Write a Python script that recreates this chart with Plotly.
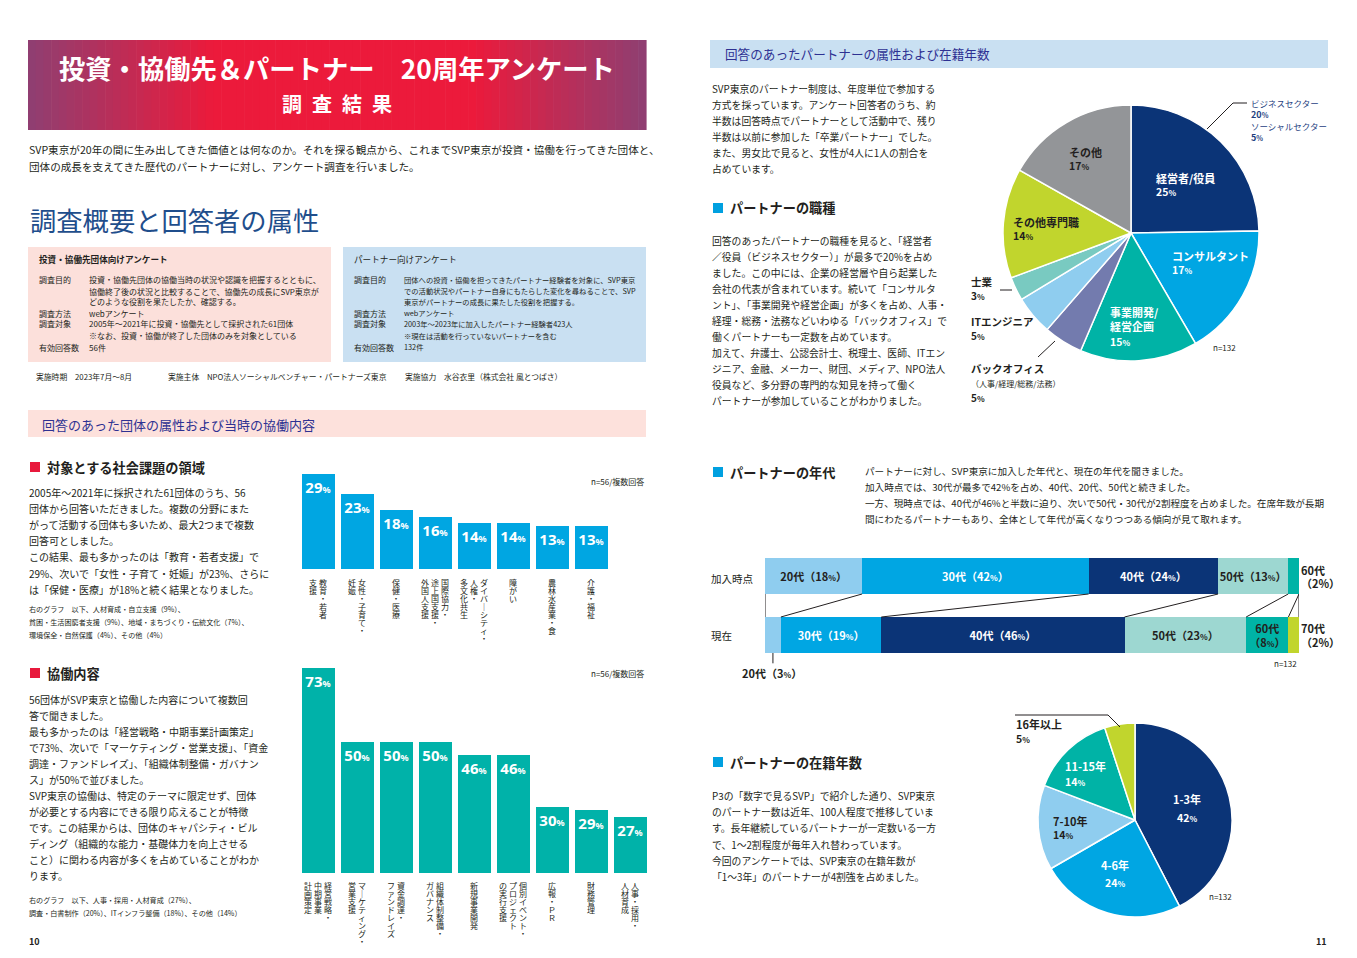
import plotly.graph_objects as go

# ---------------- DATA ----------------
issue_label_cols = [["教育・若者", "支援"], ["女性・子育て・", "妊娠"], ["保健・医療"],
                    ["国際協力・", "途上国支援・", "外国人支援"], ["ダイバーシティ・", "人権・", "多文化共生"],
                    ["障がい"], ["農林水産業・食"], ["介護・福祉"]]
issue_cats = ["".join(c) for c in issue_label_cols]
issue_vals = [29, 23, 18, 16, 14, 14, 13, 13]

collab_label_cols = [["経営戦略・", "中期事業", "計画策定"], ["マーケティング・", "営業支援"],
                     ["資金調達・", "ファンドレイズ"], ["組織体制整備・", "ガバナンス"], ["新規事業開発"],
                     ["個別イベント・", "プロジェクト", "の実行支援"], ["広報・ＰＲ"], ["財務管理"],
                     ["人事・採用・", "人材育成"]]
collab_cats = ["".join(c) for c in collab_label_cols]
collab_vals = [73, 50, 50, 50, 46, 46, 30, 29, 27]

job_labels = ["経営者/役員", "コンサルタント", "事業開発/経営企画", "バックオフィス",
              "ITエンジニア", "士業", "その他専門職", "その他"]
job_vals = [25, 17, 15, 5, 5, 3, 14, 17]
job_colors = ["#0B3477", "#00A6E3", "#00B3A6", "#737BAE", "#8FCDEF", "#79CAC1", "#C1D52D", "#939598"]

age_rows = ["加入時点", "現在"]
age_groups = ["20代", "30代", "40代", "50代", "60代", "70代"]
age_join = [18, 42, 24, 13, 2, 0]
age_now = [3, 19, 46, 23, 8, 2]
age_colors = ["#8FCDEF", "#00A6E3", "#0B3477", "#9DD7D1", "#00B3A6", "#C1D52D"]
age_text_colors = ["#231F20", "white", "white", "#231F20", "#231F20", "#231F20"]

tenure_labels = ["1-3年", "4-6年", "7-10年", "11-15年", "16年以上"]
tenure_vals = [42, 24, 14, 14, 5]
tenure_colors = ["#0B3477", "#00A6E3", "#8FCDEF", "#00B3A6", "#C1D52D"]

# ---------------- HELPERS ----------------
PAGE_W, PAGE_H = 1357, 958
OFF = 8                      # default body margin of the html page
W, H = PAGE_W - 2 * OFF, PAGE_H - 2 * OFF
FONT = "Noto Sans CJK JP"
DARK = "#231F20"
NAVY_T = "#2E3192"


def X(p):
    return (p - OFF) / W


def Y(p):
    return 1 - (p - OFF) / H


annotations = []
shapes = []


def txt(x, y, text, size=10, color=DARK, bold=False, xanchor="left", yanchor="middle", align="left"):
    t = f"<b>{text}</b>" if bold else text
    annotations.append(dict(x=X(x), y=Y(y), xref="paper", yref="paper", text=t, showarrow=False,
                            xanchor=xanchor, yanchor=yanchor, align=align, borderpad=0,
                            font=dict(family=FONT, size=size, color=color)))


def lines(x, y0, dy, items, size=10, color=DARK):
    for i, s in enumerate(items):
        txt(x, y0 + i * dy, s, size, color)


def rect(x0, y0, x1, y1, fill):
    shapes.append(dict(type="rect", xref="paper", yref="paper", x0=X(x0), x1=X(x1),
                       y0=Y(y1), y1=Y(y0), fillcolor=fill, line=dict(width=0), layer="below"))


def seg(x0, y0, x1, y1, color=DARK, width=1):
    shapes.append(dict(type="line", xref="paper", yref="paper", x0=X(x0), y0=Y(y0),
                       x1=X(x1), y1=Y(y1), line=dict(color=color, width=width)))


def pct(v, small=8, bold=True):
    s = f"{v}<span style='font-size:{small}px'>%</span>"
    return f"<b>{s}</b>" if bold else s


def mix(c1, c2, f):
    a = [int(c1[i:i + 2], 16) for i in (1, 3, 5)]
    b = [int(c2[i:i + 2], 16) for i in (1, 3, 5)]
    return "#" + "".join(f"{int(round(a[k] + (b[k] - a[k]) * f)):02x}" for k in range(3))


# ---------------- LEFT PAGE ----------------
N = 80
x0, x1 = 28, 646
for i in range(N):
    t = (i + 0.5) / N
    if t < 0.3:
        c = mix("#8E3F72", "#EC1A3B", t / 0.3)
    elif t > 0.72:
        c = mix("#EC1A3B", "#8E3F72", (t - 0.72) / 0.28)
    else:
        c = "#EC1A3B"
    rect(x0 + (x1 - x0) * i / N, 40, x0 + (x1 - x0) * (i + 1) / N + 0.6, 130, c)
txt(337, 68, "投資・協働先＆パートナー　20周年アンケート", 26.3, "white", True, "center")
txt(337, 104, "調\u2002査\u2002結\u2002果", 20, "white", True, "center")

lines(28, 150, 17, ["SVP東京が20年の間に生み出してきた価値とは何なのか。それを探る観点から、これまでSVP東京が投資・協働を行ってきた団体と、",
                    "団体の成長を支えてきた歴代のパートナーに対し、アンケート調査を行いました。"], 10.6)

txt(29, 220, "調査概要と回答者の属性", 26.3, "#1F4E8C")

rect(28, 247, 331, 362, "#FCE0DB")
rect(343, 247, 646, 362, "#C9E0F2")
BS_L, BS_R = 8.0, 7.3
txt(38, 259, "投資・協働先団体向けアンケート", 8.6, DARK, True)
txt(353, 259, "パートナー向けアンケート", 8.6, DARK, False)
box_rows_y = [280, 291, 302, 313, 324, 336, 347]
left_labels = ["調査目的", "", "", "調査方法", "調査対象", "", "有効回答数"]
left_vals = ["投資・協働先団体の協働当時の状況や認識を把握するとともに、",
             "協働終了後の状況と比較することで、協働先の成長にSVP東京が",
             "どのような役割を果たしたか、確認する。",
             "webアンケート",
             "2005年～2021年に投資・協働先として採択された61団体",
             "※なお、投資・協働が終了した団体のみを対象としている",
             "56件"]
right_vals = ["団体への投資・協働を担ってきたパートナー経験者を対象に、SVP東京",
              "での活動状況やパートナー自身にもたらした変化を尋ねることで、SVP",
              "東京がパートナーの成長に果たした役割を把握する。",
              "webアンケート",
              "2003年～2023年に加入したパートナー経験者423人",
              "※現在は活動を行っていないパートナーを含む",
              "132件"]
for yy, lab, lv, rv in zip(box_rows_y, left_labels, left_vals, right_vals):
    if lab:
        txt(38, yy, lab, BS_L)
        txt(353, yy, lab, BS_L)
    txt(88, yy, lv, BS_L)
    txt(403, yy, rv, BS_R)

txt(35, 376, "実施時期　2023年7月～8月", 7.8)
txt(167, 376, "実施主体　NPO法人ソーシャルベンチャー・パートナーズ東京", 7.8)
txt(404, 376, "実施協力　水谷衣里（株式会社 風とつばさ）", 7.8)

rect(28, 410, 646, 437, "#FDE1DC")
txt(41, 424, "回答のあった団体の属性および当時の協働内容", 13, NAVY_T)

rect(30, 462, 40, 472, "#E8193C")
txt(46, 467, "対象とする社会課題の領域", 13.2, DARK, True)
lines(28, 492, 16.2, ["2005年～2021年に採択された61団体のうち、56",
                      "団体から回答いただきました。複数の分野にまた",
                      "がって活動する団体も多いため、最大2つまで複数",
                      "回答可としました。",
                      "この結果、最も多かったのは「教育・若者支援」で",
                      "29%、次いで「女性・子育て・妊娠」が23%、さらに",
                      "は「保健・医療」が18%と続く結果となりました。"], 10)
lines(28, 609, 13, ["右のグラフ　以下、人材育成・自立支援（9%）、",
                    "貧困・生活困窮者支援（9%）、地域・まちづくり・伝統文化（7%）、",
                    "環境保全・自然保護（4%）、その他（4%）"], 7.1)
txt(645, 481, "n=56/複数回答", 8, DARK, False, "right")

rect(30, 668, 40, 678, "#E8193C")
txt(46, 673, "協働内容", 13.2, DARK, True)
lines(28, 699, 16.0, ["56団体がSVP東京と協働した内容について複数回",
                      "答で聞きました。",
                      "最も多かったのは「経営戦略・中期事業計画策定」",
                      "で73%、次いで「マーケティング・営業支援」、「資金",
                      "調達・ファンドレイズ」、「組織体制整備・ガバナン",
                      "ス」が50%で並びました。",
                      "SVP東京の協働は、特定のテーマに限定せず、団体",
                      "が必要とする内容にできる限り応えることが特徴",
                      "です。この結果からは、団体のキャパシティ・ビル",
                      "ディング（組織的な能力・基礎体力を向上させる",
                      "こと）に関わる内容が多くを占めていることがわか",
                      "ります。"], 10)
lines(28, 900, 13, ["右のグラフ　以下、人事・採用・人材育成（27%）、",
                    "調査・白書制作（20%）、ITインフラ整備（18%）、その他（14%）"], 7.1)
txt(645, 673, "n=56/複数回答", 8, DARK, False, "right")

txt(28, 941, "10", 9, DARK, True)
txt(1328, 941, "11", 9, DARK, True, "right")


def vertical_labels(cols_list, xref, ytop, base=6.2, glyph=8.0, colpitch=10):
    # vertical (tategaki) labels: one annotation per text column, tight line pitch
    for i, cols in enumerate(cols_list):
        n = len(cols)
        for j, col in enumerate(cols):
            shift = ((n - 1) / 2 - j) * colpitch
            chars = ["｜" if ch == "ー" else ch for ch in col]
            text = "<br>".join(f"<span style='font-size:{glyph}px'>{ch}</span>" for ch in chars)
            annotations.append(dict(x=i, y=Y(ytop), xref=xref, yref="paper",
                                    text=text, showarrow=False, xshift=shift, align="center",
                                    xanchor="center", yanchor="top", borderpad=0,
                                    font=dict(family=FONT, size=base, color=DARK)))


vertical_labels(issue_label_cols, "x", 576)
vertical_labels(collab_label_cols, "x2", 879)

fig = go.Figure()

bar_text_font = dict(family="Noto Sans, " + FONT, size=15, color="white")
fig.add_trace(go.Bar(
    x=list(range(len(issue_vals))), y=issue_vals, hovertext=issue_cats, xaxis="x", yaxis="y",
    width=33 / 39, marker=dict(color="#00A6E2", line=dict(width=0)),
    text=[pct(v, small=9) for v in issue_vals], textposition="inside", insidetextanchor="end",
    textangle=0, constraintext="none", textfont=bar_text_font, showlegend=False))
fig.add_trace(go.Bar(
    x=list(range(len(collab_vals))), y=collab_vals, hovertext=collab_cats, xaxis="x2", yaxis="y2",
    width=33 / 39, marker=dict(color="#00B2A9", line=dict(width=0)),
    text=[pct(v, small=9) for v in collab_vals], textposition="inside", insidetextanchor="end",
    textangle=0, constraintext="none", textfont=bar_text_font, showlegend=False))

# ---------------- RIGHT PAGE ----------------
rect(710, 40, 1328, 68, "#C9E0F2")
txt(724, 54, "回答のあったパートナーの属性および在籍年数", 12.6, NAVY_T)

lines(711, 89, 16, ["SVP東京のパートナー制度は、年度単位で参加する",
                    "方式を採っています。アンケート回答者のうち、約",
                    "半数は回答時点でパートナーとして活動中で、残り",
                    "半数は以前に参加した「卒業パートナー」でした。",
                    "また、男女比で見ると、女性が4人に1人の割合を",
                    "占めています。"], 9.8)

rect(713, 203, 723, 213, "#00A0E0")
txt(729, 208, "パートナーの職種", 13.2, DARK, True)
lines(711, 241, 15.95, ["回答のあったパートナーの職種を見ると、「経営者",
                        "／役員（ビジネスセクター）」が最多で20%を占め",
                        "ました。この中には、企業の経営層や自ら起業した",
                        "会社の代表が含まれています。続いて「コンサルタ",
                        "ント」、「事業開発や経営企画」が多くを占め、人事・",
                        "経理・総務・法務などいわゆる「バックオフィス」で",
                        "働くパートナーも一定数を占めています。",
                        "加えて、弁護士、公認会計士、税理士、医師、ITエン",
                        "ジニア、金融、メーカー、財団、メディア、NPO法人",
                        "役員など、多分野の専門的な知見を持って働く",
                        "パートナーが参加していることがわかりました。"], 9.8)

fig.add_trace(go.Pie(values=job_vals, labels=job_labels, sort=False, direction="clockwise", rotation=0,
                     domain=dict(x=[X(1003), X(1259)], y=[Y(361), Y(105)]),
                     marker=dict(colors=job_colors, line=dict(color="white", width=1.5)),
                     textinfo="none", showlegend=False, hole=0))
txt(1155, 178, job_labels[0], 11, "white", True)
txt(1155, 192, pct(job_vals[0]), 10.5, "white")
txt(1171, 256, job_labels[1], 11, "white", True)
txt(1171, 270, pct(job_vals[1]), 10.5, "white")
txt(1109, 312, "事業開発/", 11, "white", True)
txt(1109, 326, "経営企画", 11, "white", True)
txt(1109, 341, pct(job_vals[2]), 10.5, "white")
txt(1012, 222, job_labels[6], 11, DARK, True)
txt(1012, 236, pct(job_vals[6]), 10.5, DARK)
txt(1068, 152, job_labels[7], 11, DARK, True)
txt(1068, 166, pct(job_vals[7]), 10.5, DARK)
txt(970, 282, job_labels[5], 10.5, DARK, True)
txt(970, 295, pct(job_vals[5]), 10, DARK)
seg(1000, 290, 1012, 290)
txt(970, 321, job_labels[4], 10.5, DARK, True)
txt(970, 336, pct(job_vals[4]), 10, DARK)
txt(970, 368, job_labels[3], 10.5, DARK, True)
txt(970, 383, "（人事/経理/総務/法務）", 8, DARK)
txt(970, 397, pct(job_vals[3]), 10, DARK)
seg(1038, 357, 1055, 341)
txt(1250, 103, "ビジネスセクター", 8.5, "#1F3F7F")
txt(1250, 115, pct(20, small=7), 9, "#1F3F7F")
txt(1250, 126, "ソーシャルセクター", 8.5, "#1F3F7F")
txt(1250, 138, pct(5, small=7), 9, "#1F3F7F")
seg(1207, 129, 1233, 103)
seg(1233, 103, 1247, 103)
txt(1212, 348, "n=132", 8, DARK)

rect(713, 467, 723, 477, "#00A0E0")
txt(729, 472, "パートナーの年代", 13.2, DARK, True)
lines(864, 471, 16, ["パートナーに対し、SVP東京に加入した年代と、現在の年代を聞きました。",
                     "加入時点では、30代が最多で42%を占め、40代、20代、50代と続きました。",
                     "一方、現時点では、40代が46%と半数に迫り、次いで50代・30代が2割程度を占めました。在席年数が長期",
                     "間にわたるパートナーもあり、全体として年代が高くなりつつある傾向が見て取れます。"], 9.6)
txt(710, 578, age_rows[0], 10.5)
txt(710, 635, age_rows[1], 10.5)

tot_join = sum(age_join)
tot_now = sum(age_now)
for gi, g in enumerate(age_groups):
    vj = age_join[gi] / tot_join * 100
    vn = age_now[gi] / tot_now * 100
    texts = []
    for raw in (age_join[gi], age_now[gi]):
        if raw >= 10:
            texts.append(f"<b>{g}（{raw}<span style='font-size:8px'>%</span>）</b>")
        elif raw >= 5:
            texts.append(f"<b>{g}<br>（{raw}<span style='font-size:8px'>%</span>）</b>")
        else:
            texts.append("")
    fig.add_trace(go.Bar(
        x=[vj, vn], y=[1, 0], orientation="h", xaxis="x3", yaxis="y3", width=0.61,
        customdata=[age_join[gi], age_now[gi]], name=g,
        marker=dict(color=age_colors[gi], line=dict(width=0)),
        text=texts, textposition="inside", insidetextanchor="middle", textangle=0,
        constraintext="none",
        textfont=dict(family=FONT, size=11, color=age_text_colors[gi]), showlegend=False))

cj, cn = [0.0], [0.0]
for gi in range(len(age_groups)):
    cj.append(cj[-1] + age_join[gi] / tot_join * 100)
    cn.append(cn[-1] + age_now[gi] / tot_now * 100)
for a, b in zip(cj, cn):
    shapes.append(dict(type="line", xref="x3", yref="y3", x0=a, y0=1 - 0.305, x1=b, y1=0.305,
                       line=dict(color=DARK, width=1)))
txt(1300, 570, "<b>60代</b>", 11, DARK)
txt(1300, 583, f"<b>（{age_join[4]}%）</b>", 11, DARK)
txt(1300, 628, "<b>70代</b>", 11, DARK)
txt(1300, 642, f"<b>（{age_now[5]}%）</b>", 11, DARK)
xm = (cn[0] + cn[1]) / 2
shapes.append(dict(type="line", xref="x3", yref="y3", x0=xm, x1=xm, y0=-0.305, y1=-0.48,
                   line=dict(color=DARK, width=1)))
txt(772, 673, f"<b>20代（{age_now[0]}<span style='font-size:8px'>%</span>）</b>", 11, DARK, False, "center")
txt(1298, 663, "n=132", 8, DARK, False, "right")

rect(713, 757, 723, 767, "#00A0E0")
txt(729, 762, "パートナーの在籍年数", 13.2, DARK, True)
lines(711, 796, 16.2, ["P3の「数字で見るSVP」で紹介した通り、SVP東京",
                       "のパートナー数は近年、100人程度で推移していま",
                       "す。長年継続しているパートナーが一定数いる一方",
                       "で、1～2割程度が毎年入れ替わっています。",
                       "今回のアンケートでは、SVP東京の在籍年数が",
                       "「1～3年」のパートナーが4割強を占めました。"], 9.8)

fig.add_trace(go.Pie(values=tenure_vals, labels=tenure_labels, sort=False, direction="clockwise",
                     rotation=0, domain=dict(x=[X(1038), X(1232)], y=[Y(917), Y(723)]),
                     marker=dict(colors=tenure_colors, line=dict(color="white", width=1.5)),
                     textinfo="none", showlegend=False, hole=0))
txt(1187, 799, tenure_labels[0], 11, "white", True, "center")
txt(1187, 817, pct(tenure_vals[0]), 10.5, "white", False, "center")
txt(1115, 865, tenure_labels[1], 11, "white", True, "center")
txt(1115, 882, pct(tenure_vals[1]), 10.5, "white", False, "center")
txt(1052, 821, tenure_labels[2], 11, DARK, True)
txt(1052, 834, pct(tenure_vals[2]), 10.5, DARK)
txt(1064, 766, tenure_labels[3], 11, "white", True)
txt(1064, 781, pct(tenure_vals[3]), 10.5, "white")
txt(1015, 724, tenure_labels[4], 11, DARK, True)
txt(1015, 738, pct(tenure_vals[4]), 10.5, DARK)
seg(1015, 715, 1108, 715)
seg(1108, 715, 1120, 727)
txt(1208, 896, "n=132", 8, DARK)

# ---------------- LAYOUT ----------------
hidden = dict(visible=False, showgrid=False, zeroline=False, fixedrange=True)
fig.update_layout(
    width=W, height=H, margin=dict(l=0, r=0, t=0, b=0),
    paper_bgcolor="white", plot_bgcolor="white", barmode="stack", showlegend=False,
    font=dict(family=FONT, color=DARK),
    xaxis=dict(domain=[X(298.5), X(610.5)], range=[-0.5, 7.5], anchor="y", **hidden),
    yaxis=dict(domain=[Y(569), Y(464)], range=[0, 32], anchor="x", **hidden),
    xaxis2=dict(domain=[X(298.5), X(649.5)], range=[-0.5, 8.5], anchor="y2", **hidden),
    yaxis2=dict(domain=[Y(873), Y(658)], range=[9.7, 76], anchor="x2", **hidden),
    xaxis3=dict(domain=[X(765), X(1299)], range=[0, 100], anchor="y3", **hidden),
    yaxis3=dict(domain=[Y(664.5), Y(546.5)], range=[-0.5, 1.5], anchor="x3", **hidden),
    annotations=annotations, shapes=shapes,
)

fig.write_html("out.html")
